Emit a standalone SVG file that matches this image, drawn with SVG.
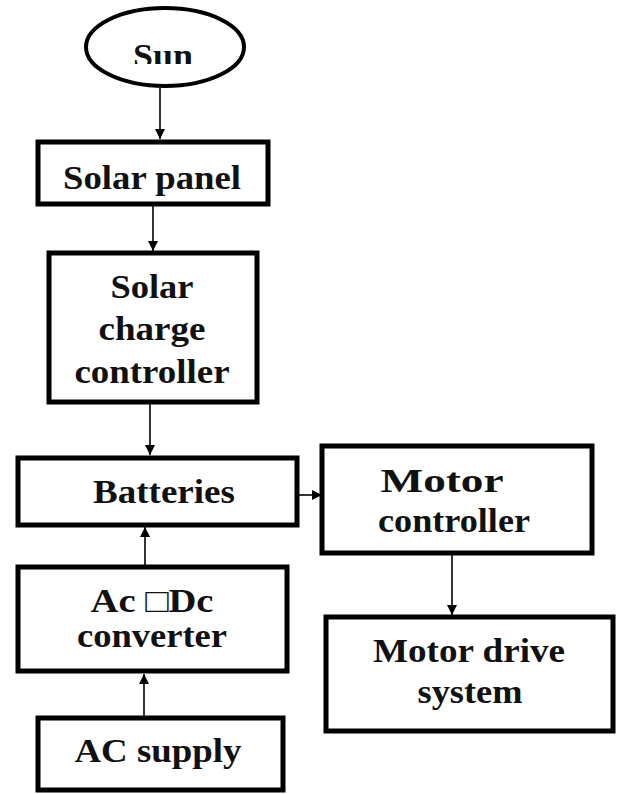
<svg xmlns="http://www.w3.org/2000/svg" width="618" height="794" viewBox="0 0 618 794">
<style>
.box{fill:#fff;stroke:#000;stroke-width:5}
.t{font-family:"Liberation Serif","Times New Roman",serif;font-weight:bold;font-size:33px;fill:#111;text-anchor:middle}
.c{stroke:#000;stroke-width:1.6;fill:none;marker-end:url(#ah)}
</style>
<defs>
<marker id="ah" viewBox="0 0 10 10" refX="10" refY="5" markerWidth="10" markerHeight="10" markerUnits="userSpaceOnUse" orient="auto">
<path d="M0,0 L10,5 L0,10 z" fill="#000"/>
</marker>
<clipPath id="sunclip"><rect x="80" y="0" width="170" height="64"/></clipPath>
</defs>
<rect width="618" height="794" fill="#fff"/>
<g id="connectors">
<line class="c" x1="160" y1="88" x2="160" y2="139"/>
<line class="c" x1="153" y1="206" x2="153" y2="251"/>
<line class="c" x1="150" y1="403" x2="150" y2="455"/>
<line class="c" x1="295" y1="495" x2="322" y2="495"/>
<line class="c" x1="452" y1="554" x2="452" y2="615"/>
<line class="c" x1="145" y1="566" x2="145" y2="527"/>
<line class="c" x1="144" y1="716" x2="144" y2="674"/>
</g>
<g id="sun">
<ellipse cx="165" cy="47" rx="79" ry="39" fill="#fff" stroke="#000" stroke-width="4"/>
<text class="t" x="163" y="67" textLength="60" lengthAdjust="spacingAndGlyphs" clip-path="url(#sunclip)">Sun</text>
</g>
<g id="solar-panel">
<rect class="box" x="38" y="142" width="230" height="62"/>
<text class="t" x="152" y="189" textLength="178" lengthAdjust="spacingAndGlyphs">Solar panel</text>
</g>
<g id="charge-controller">
<rect class="box" x="49" y="253" width="208" height="149"/>
<text class="t" x="152" y="298" textLength="83" lengthAdjust="spacingAndGlyphs">Solar</text>
<text class="t" x="152" y="340" textLength="107" lengthAdjust="spacingAndGlyphs">charge</text>
<text class="t" x="152" y="383" textLength="155" lengthAdjust="spacingAndGlyphs">controller</text>
</g>
<g id="batteries">
<rect class="box" x="18" y="458" width="279" height="67"/>
<text class="t" x="164" y="503" textLength="142" lengthAdjust="spacingAndGlyphs">Batteries</text>
</g>
<g id="motor-controller">
<rect class="box" x="322" y="446" width="270" height="107"/>
<text class="t" x="442" y="492" textLength="123" lengthAdjust="spacingAndGlyphs">Motor</text>
<text class="t" x="454" y="532" textLength="152" lengthAdjust="spacingAndGlyphs">controller</text>
</g>
<g id="motor-drive">
<rect class="box" x="326" y="617" width="287" height="114"/>
<text class="t" x="469" y="662" textLength="192" lengthAdjust="spacingAndGlyphs">Motor drive</text>
<text class="t" x="470" y="703" textLength="105" lengthAdjust="spacingAndGlyphs">system</text>
</g>
<g id="acdc">
<rect class="box" x="18" y="567" width="269" height="104"/>
<text class="t" x="152" y="612" textLength="123" lengthAdjust="spacingAndGlyphs">Ac □Dc</text>
<text class="t" x="152" y="647" textLength="150" lengthAdjust="spacingAndGlyphs">converter</text>
</g>
<g id="ac-supply">
<rect class="box" x="38" y="718" width="245" height="72"/>
<text class="t" x="158" y="762" textLength="167" lengthAdjust="spacingAndGlyphs">AC supply</text>
</g>
</svg>
